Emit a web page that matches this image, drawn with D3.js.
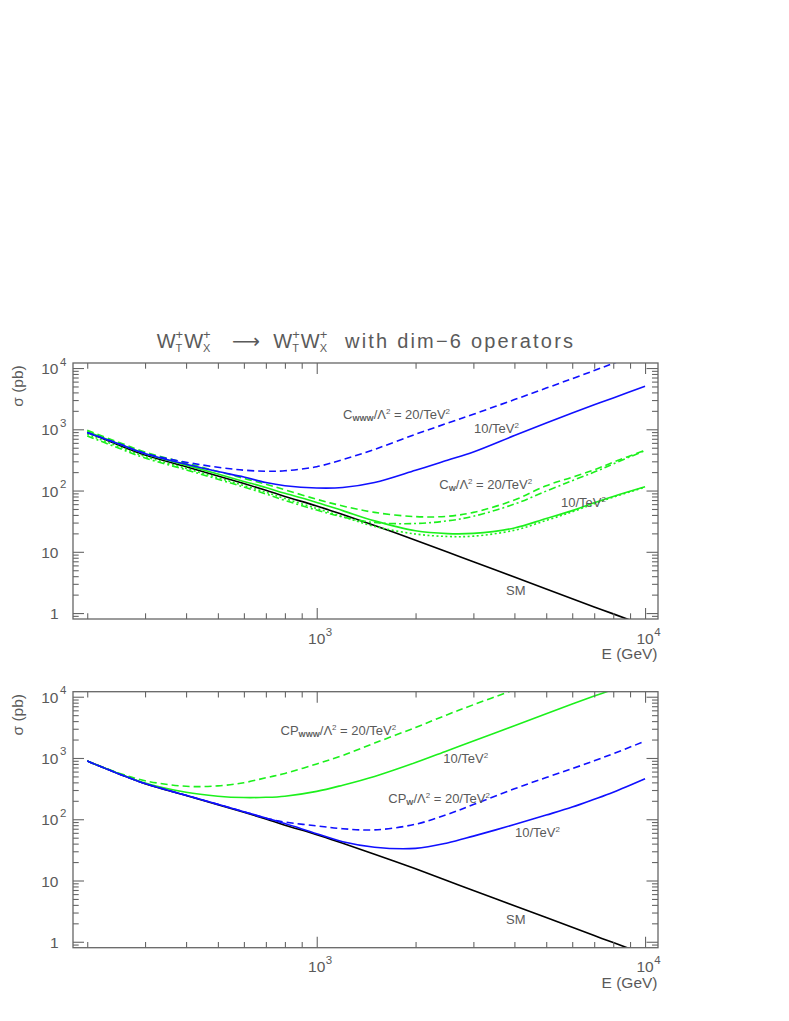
<!DOCTYPE html>
<html><head><meta charset="utf-8">
<script src="https://cdn.jsdelivr.net/npm/d3@7"></script>
<style>
body{margin:0;background:#fff}
svg{display:block}
text{font-family:"Liberation Sans",Arial,sans-serif;fill:#5a5a5a;white-space:pre}
</style>
</head><body>
<svg id="c" width="789" height="1021"></svg>
<script>
// ---------------- data (E in GeV, sigma in pb) ----------------
const energyGeV = [200, 250, 300, 400, 500, 600, 700, 800, 1000, 1200, 1500, 2000, 2500, 3000, 4000, 5000, 6000, 7000, 8000, 10000];
const sigmaSM   = [891, 550, 380, 244, 173, 130, 101, 80, 56, 40.5, 26.9, 15.5, 9.9, 6.9, 3.87, 2.48, 1.72, 1.26, 0.97, 0.62];
// upper panel: C_WWW and C_W
const sigmaCwww20 = [890, 580, 405, 290, 240, 215, 207, 210, 245, 320, 470, 830, 1256, 1760, 3050, 4700, 6700, 9100, 11900, 18600];
const sigmaCwww10 = [880, 575, 398, 269, 204, 166, 135, 120, 110, 112, 135, 214, 313, 427, 792, 1268, 1841, 2506, 3250, 5025];
const sigmaCw20   = [965, 610, 425, 280, 205, 158, 127, 103, 72, 56, 44, 37.5, 38, 44, 70, 120, 165, 218, 290, 456];
const sigmaCw10   = [920, 575, 400, 260, 186, 141, 112, 90, 64, 47, 32, 22, 19.8, 20, 24.5, 35, 47, 63, 80, 115];
const sigmaCwM10  = [830, 520, 360, 230, 162, 121, 94, 74, 51, 37.5, 26, 19.5, 17.8, 18, 22.5, 32.5, 45, 61, 78, 113];
const sigmaCwM20  = [780, 490, 340, 218, 153, 114, 88, 69, 48, 37, 30, 29, 32, 38, 60, 98, 145, 200, 272, 450];
// lower panel: CP_WWW and CP_W
const sigmaCPwww20 = [890, 565, 425, 345, 350, 395, 475, 560, 800, 1100, 1750, 3150, 5100, 7400, 13000, null, null, null, null, null];
const sigmaCPwww10 = [890, 555, 390, 275, 238, 226, 228, 238, 285, 360, 500, 843, 1318, 1897, 3370, 5270, 7590, 10230, 13200, null];
const sigmaCPw20   = [890, 550, 382, 246, 175, 133, 104, 90, 78, 70, 67, 83, 120, 174, 314, 480, 671, 900, 1176, 1880];
const sigmaCPw10   = [890, 550, 382, 246, 176, 133, 105, 85, 58, 43, 35, 33.5, 41, 53, 82, 117, 158, 212, 277, 460];

// axes
const xDomain = [181, 10950];
const yDomain = [0.8, 12080];
const xMajorTicks = [1000, 10000];
const xMajorLabels = [["10", "3"], ["10", "4"]];
const xMinorTicks = [200, 300, 400, 500, 600, 700, 800, 900, 2000, 3000, 4000, 5000, 6000, 7000, 8000, 9000];
const yMajorTicks = [1, 10, 100, 1000, 10000];
const yMajorLabels = [["1", ""], ["10", ""], ["10", "2"], ["10", "3"], ["10", "4"]];
const yMinorTicks = [0.9, 2, 3, 4, 5, 6, 7, 8, 9, 20, 30, 40, 50, 60, 70, 80, 90, 200, 300, 400, 500, 600, 700, 800, 900,
                     2000, 3000, 4000, 5000, 6000, 7000, 8000, 9000];

const BLUE = "#1010ff", GREEN = "#1cf01c", BLACK = "#000";

// ---------------- helpers ----------------
const svg = d3.select("#c");

function rich(parent, x, y, runs, anchor = "start") {
  const g = parent.append("g");
  let cx = 0, ps = 0, pw = 0;
  for (const r of runs) {
    if (r.gap) { cx += r.gap; continue; }
    const t = g.append("text").attr("y", y + (r.dy || 0)).style("font-size", r.s + "px").text(r.t);
    if (r.bold) t.style("font-weight", "bold");
    if (r.family) t.style("font-family", r.family);
    if (r.len) t.attr("textLength", r.len).attr("lengthAdjust", r.adj || "spacingAndGlyphs");
    const w = r.len || t.node().getComputedTextLength();
    const sx = r.stack ? ps : cx;
    t.attr("x", x + sx);
    cx = r.stack ? Math.max(ps + pw, sx + w) : sx + w;
    ps = sx; pw = w;
  }
  const shift = anchor === "end" ? -cx : anchor === "middle" ? -cx / 2 : 0;
  g.attr("transform", `translate(${shift},0)`);
  return cx;
}

const LS = 13, SUB = 7.5, SUP = 8;
function coupling(prefix, sub, x, y, parent) {
  return rich(parent, x, y, [
    { t: prefix, s: LS },
    { t: sub, s: SUB, dy: 2, bold: true },
    { t: "/Λ", s: LS },
    { t: "2", s: SUP, dy: -5 },
    { gap: 3.5 },
    { t: "= 20/TeV", s: LS },
    { t: "2", s: SUP, dy: -5 }
  ]);
}
function tev10(x, y, parent) {
  return rich(parent, x, y, [{ t: "10/TeV", s: LS }, { t: "2", s: SUP, dy: -5 }]);
}

function panel(cfg) {
  const X0 = 73, X1 = 658, Y0 = cfg.top, Y1 = cfg.top + 256;
  const x = d3.scaleLog().domain(xDomain).range([X0, X1]);
  const y = d3.scaleLog().domain(yDomain).range([Y1, Y0]);
  const g = svg.append("g");

  const clipId = "clip" + cfg.id;
  g.append("clipPath").attr("id", clipId).append("rect")
    .attr("x", X0).attr("y", Y0).attr("width", X1 - X0).attr("height", Y1 - Y0);

  const line = d3.line()
    .defined(d => d[1] != null)
    .x(d => x(d[0])).y(d => y(d[1]))
    .curve(d3.curveCatmullRom.alpha(0.5));

  const cg = g.append("g").attr("clip-path", `url(#${clipId})`);
  cfg.curves.forEach(c => {
    cg.append("path")
      .attr("d", line(energyGeV.map((e, i) => [e, c.v[i]])))
      .attr("fill", "none").attr("stroke", c.color).attr("stroke-width", c.w || 1.6)
      .attr("stroke-dasharray", c.dash || null);
  });

  // ticks via d3 axes
  const tickStyle = sel => {
    sel.select(".domain").remove();
    sel.selectAll(".tick line").attr("stroke", "#666").attr("stroke-width", 1.1);
  };
  const addAxis = (gen, tx, ty, vals, size) => {
    g.append("g").attr("transform", `translate(${tx},${ty})`)
      .call(gen.tickValues(vals).tickSize(-size).tickSizeOuter(0).tickFormat(""))
      .call(tickStyle);
  };
  addAxis(d3.axisBottom(x), 0, Y1, xMinorTicks, 5.7);
  addAxis(d3.axisBottom(x), 0, Y1, xMajorTicks, 11);
  addAxis(d3.axisTop(x), 0, Y0, xMinorTicks, 5.7);
  addAxis(d3.axisTop(x), 0, Y0, xMajorTicks, 11);
  addAxis(d3.axisLeft(y), X0, 0, yMinorTicks, 5.7);
  addAxis(d3.axisLeft(y), X0, 0, yMajorTicks, 11);
  addAxis(d3.axisRight(y), X1, 0, yMinorTicks, 6);
  addAxis(d3.axisRight(y), X1, 0, yMajorTicks, 11.5);

  // frame
  g.append("rect").attr("x", X0).attr("y", Y0).attr("width", X1 - X0).attr("height", Y1 - Y0)
    .attr("fill", "none").attr("stroke", "#666").attr("stroke-width", 1.3);

  // tick labels
  xMajorTicks.forEach((v, i) => {
    const [b, e] = xMajorLabels[i];
    const t = g.append("text").attr("x", x(v)).attr("y", Y1 + 24.7)
      .attr("text-anchor", "middle").style("font-size", "15.5px").text(b);
    const w = t.node().getComputedTextLength();
    g.append("text").attr("x", x(v) + w / 2 + 0.5).attr("y", Y1 + 16.5)
      .style("font-size", "11.5px").text(e);
  });
  yMajorTicks.forEach((v, i) => {
    const [b, e] = yMajorLabels[i];
    g.append("text").attr("x", 58.5).attr("y", y(v) + 6)
      .attr("text-anchor", "end").style("font-size", "15.5px").text(b);
    if (e) g.append("text").attr("x", 60).attr("y", y(v) - 2.5)
      .style("font-size", "11.5px").text(e);
  });

  g.append("text").attr("x", 657.5).attr("y", Y1 + 40)
    .attr("text-anchor", "end").style("font-size", "15.5px").text("E (GeV)");
  g.append("text").attr("transform", `translate(23,${Y0 + 23}) rotate(-90)`)
    .attr("text-anchor", "middle").style("font-size", "15.5px").text("σ (pb)");

  cfg.labels(g);
}

// ---------------- title ----------------
const TS = 20;
const wpair = [
  { t: "W", s: TS }, { t: "T", s: 11, dy: 4 }, { t: "+", s: 13, dy: -9, stack: true },
  { gap: 1 },
  { t: "W", s: TS }, { t: "X", s: 11, dy: 4 }, { t: "+", s: 13, dy: -9, stack: true }
];
rich(svg, 156.7, 348, wpair);
rich(svg, 232, 348, [{ t: "⟶", s: TS, family: "DejaVu Sans", len: 28 }]);
rich(svg, 273.3, 348, wpair);
rich(svg, 345, 348, [{ t: "with dim−6 operators", s: TS, len: 228, adj: "spacing" }]);

// ---------------- panels ----------------
panel({
  id: "top", top: 363,
  curves: [
    { v: sigmaSM, color: BLACK },
    { v: sigmaCwM20, color: GREEN, dash: "7,3,2,3" },
    { v: sigmaCwM10, color: GREEN, dash: "2,2.5" },
    { v: sigmaCw20, color: GREEN, dash: "7,4" },
    { v: sigmaCw10, color: GREEN },
    { v: sigmaCwww20, color: BLUE, dash: "7,4" },
    { v: sigmaCwww10, color: BLUE }
  ],
  labels: g => {
    coupling("C", "WWW", 343, 419, g);
    tev10(474, 432.7, g);
    coupling("C", "W", 439.3, 489.3, g);
    tev10(561, 507.3, g);
    g.append("text").attr("x", 506).attr("y", 595).style("font-size", "13px").text("SM");
  }
});

panel({
  id: "bot", top: 691.7,
  curves: [
    { v: sigmaSM, color: BLACK },
    { v: sigmaCPwww20, color: GREEN, dash: "7,4" },
    { v: sigmaCPwww10, color: GREEN },
    { v: sigmaCPw20, color: BLUE, dash: "7,4" },
    { v: sigmaCPw10, color: BLUE }
  ],
  labels: g => {
    coupling("CP", "WWW", 280.5, 735, g);
    tev10(443.3, 763.3, g);
    coupling("CP", "W", 388.3, 802.5, g);
    tev10(515, 836.7, g);
    g.append("text").attr("x", 506).attr("y", 924).style("font-size", "13px").text("SM");
  }
});
</script>
</body></html>
